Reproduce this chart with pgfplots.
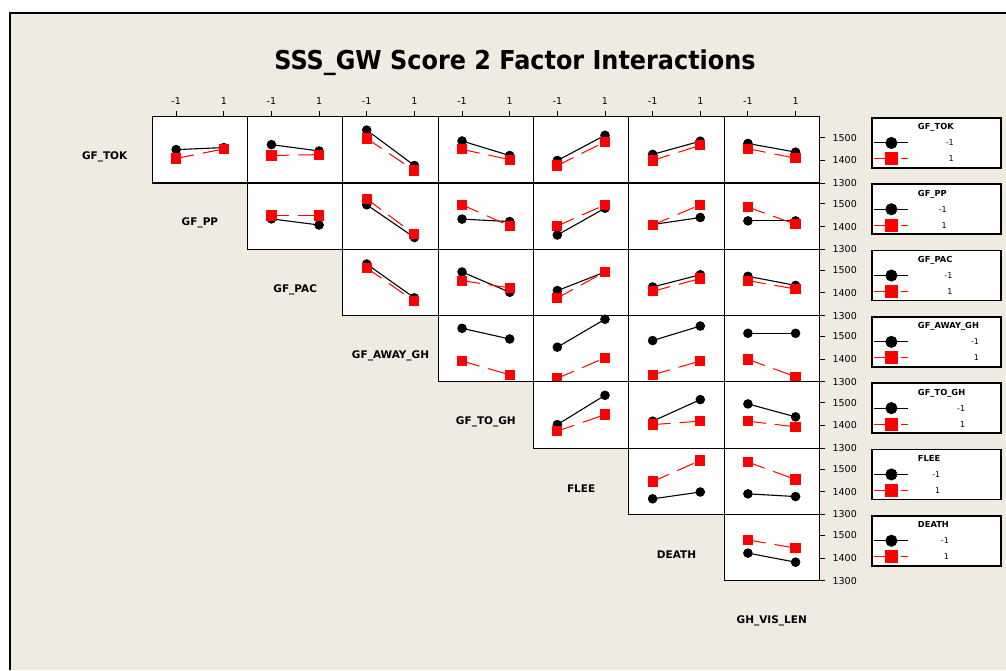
\documentclass[border=0pt]{standalone}
\usepackage{pgfplots}
\pgfplotsset{compat=1.18}
\usepackage{calc}
\usepackage{fontspec}
\setmainfont{DejaVu Sans}
\definecolor{bgbeige}{RGB}{239,235,224}
\definecolor{mtred}{RGB}{255,0,0}

\newcommand{\titlefont}{\fontsize{26}{30}\selectfont\bfseries}
\newcommand{\labfont}{\fontsize{10.5}{12}\selectfont\bfseries}
\newcommand{\lgtitlefont}{\fontsize{8.3}{9}\selectfont\bfseries}

\pgfplotsset{
  cellstyle/.style={
    scale only axis, width=95.3pt, height=66.3pt, anchor=north west,
    xmin=-2, xmax=2, ymin=1300, ymax=1592,
    xtick=\empty, ytick=\empty,
    axis line style={line width=1.1pt},
    axis background/.style={fill=white},
    tick style={line width=0.9pt, black},
    major tick length=5.7pt,
    tick align=outside,
    ticklabel style={font=\fontsize{9.5}{10}\selectfont},
  },
  toprow/.style={xtick={-1,1}, xticklabels={-1,1}, xtick pos=right,
    xticklabel pos=right, xticklabel style={yshift=3pt}},
  rightcol/.style={ytick={1300,1400,1500}, yticklabels={1300,1400,1500},
    ytick pos=right, yticklabel pos=right, yticklabel style={xshift=4pt}},
  lo/.style={black, line width=1.1pt, mark=*, mark size=4.2pt,
    mark options={solid, fill=black}},
  hi/.style={mtred, line width=1pt, dash pattern=on 18pt off 9pt,
    mark=square*, mark size=4.6pt, mark options={solid, fill=mtred}},
  legendstyle/.style={
    legend style={at={(1,1)}, anchor=north west, xshift=51.7pt, yshift=-0.5pt,
      draw=black, line width=1.5pt, fill=white, inner xsep=2pt, inner ysep=1pt,
      column sep=9pt, row sep=0pt, font=\fontsize{8}{9}\selectfont,
      nodes={inner sep=0pt, text height=11pt, text depth=5pt}},
    legend cell align=left,
    legend image code/.code={
      \draw[mark repeat=2, mark phase=2, ##1, every mark/.append style={scale=1.3}]
        plot coordinates {(0pt,0pt) (17pt,0pt) (34pt,0pt)};},
  },
}

% ordinary cell: [options]{column}{row}{black coords}{red coords}
\newcommand{\cell}[5][]{%
  \begin{axis}[cellstyle, at={({152.3pt+95.3pt*#2},{553.3pt-66.3pt*#3})}, #1]
    \addplot[lo] coordinates {#4};
    \addplot[hi] coordinates {#5};
  \end{axis}}

% last column cell with y ticks and legend: [options]{row}{title}{black}{red}
\newcommand{\lastcell}[5][]{%
  \begin{axis}[cellstyle, rightcol, legendstyle,
      at={({152.3pt+95.3pt*6},{553.3pt-66.3pt*#2})}, #1]
    \addlegendimage{empty legend}
    \addlegendentry{\makebox[81pt][l]{\lgtitlefont #3}}
    \addplot[lo] coordinates {#4};
    \addlegendentry{\makebox[81pt][l]{\makebox[\widthof{\lgtitlefont #3}][r]{-1}}}
    \addplot[hi] coordinates {#5};
    \addlegendentry{\makebox[81pt][l]{\makebox[\widthof{\lgtitlefont #3}][r]{1}}}
  \end{axis}}

\begin{document}
\begin{tikzpicture}[x=1pt,y=1pt]
\useasboundingbox (0,0) rectangle (1006,670);
\fill[white] (0,0) rectangle (1006,670);
\fill[bgbeige] (10,0) rectangle (1006,657);
\draw[line width=1.5pt] (10,0) -- (10,657) -- (1006,657);

\node[anchor=base, font=\titlefont] at (515,600)
  {\scalebox{0.92}[1]{SSS\_GW Score 2 Factor Interactions}};

% row 0: GF_TOK
\cell[toprow]{0}{0}{(-1,1447) (1,1456)}{(-1,1408) (1,1450)}
\cell[toprow]{1}{0}{(-1,1469) (1,1441)}{(-1,1421) (1,1425)}
\cell[toprow]{2}{0}{(-1,1533) (1,1377)}{(-1,1496) (1,1355)}
\cell[toprow]{3}{0}{(-1,1485) (1,1421)}{(-1,1448) (1,1403)}
\cell[toprow]{4}{0}{(-1,1399) (1,1510)}{(-1,1377) (1,1481)}
\cell[toprow]{5}{0}{(-1,1426) (1,1484)}{(-1,1399) (1,1466)}
\lastcell[toprow]{0}{GF\_TOK}{(-1,1474) (1,1436)}{(-1,1451) (1,1409)}

% row 1: GF_PP
\cell{1}{1}{(-1,1434) (1,1407)}{(-1,1449) (1,1449)}
\cell{2}{1}{(-1,1496) (1,1352)}{(-1,1522) (1,1366)}
\cell{3}{1}{(-1,1433) (1,1422)}{(-1,1496) (1,1403)}
\cell{4}{1}{(-1,1363) (1,1481)}{(-1,1403) (1,1496)}
\cell{5}{1}{(-1,1409) (1,1440)}{(-1,1407) (1,1496)}
\lastcell{1}{GF\_PP}{(-1,1425) (1,1425)}{(-1,1486) (1,1410)}

% row 2: GF_PAC
\cell{2}{2}{(-1,1527) (1,1378)}{(-1,1510) (1,1363)}
\cell{3}{2}{(-1,1492) (1,1403)}{(-1,1454) (1,1422)}
\cell{4}{2}{(-1,1410) (1,1492)}{(-1,1378) (1,1492)}
\cell{5}{2}{(-1,1426) (1,1480)}{(-1,1407) (1,1463)}
\lastcell{2}{GF\_PAC}{(-1,1473) (1,1433)}{(-1,1454) (1,1417)}

% row 3: GF_AWAY_GH
\cell{3}{3}{(-1,1536) (1,1489)}{(-1,1392) (1,1331)}
\cell{4}{3}{(-1,1453) (1,1576)}{(-1,1316) (1,1406)}
\cell{5}{3}{(-1,1482) (1,1546)}{(-1,1331) (1,1392)}
\lastcell{3}{GF\_AWAY\_GH}{(-1,1514) (1,1514)}{(-1,1399) (1,1323)}

% row 4: GF_TO_GH
\cell{4}{4}{(-1,1404) (1,1533)}{(-1,1375) (1,1448)}
\cell{5}{4}{(-1,1419) (1,1514)}{(-1,1404) (1,1419)}
\lastcell{4}{GF\_TO\_GH}{(-1,1495) (1,1438)}{(-1,1419) (1,1394)}

% row 5: FLEE
\cell{5}{5}{(-1,1369) (1,1399)}{(-1,1445) (1,1538)}
\lastcell{5}{FLEE}{(-1,1391) (1,1379)}{(-1,1531) (1,1454)}

% row 6: DEATH
\lastcell{6}{DEATH}{(-1,1422) (1,1382)}{(-1,1480) (1,1444)}

% factor names on the diagonal
\begin{scope}[every node/.style={font=\labfont}]
\node at (104.65,513.15) {GF\_TOK};
\node at (199.95,446.85) {GF\_PP};
\node at (295.25,380.55) {GF\_PAC};
\node at (390.55,314.25) {GF\_AWAY\_GH};
\node at (485.85,247.95) {GF\_TO\_GH};
\node at (581.15,181.65) {FLEE};
\node at (676.45,115.35) {DEATH};
\node at (771.75,49.05) {GH\_VIS\_LEN};
\end{scope}
\end{tikzpicture}
\end{document}
